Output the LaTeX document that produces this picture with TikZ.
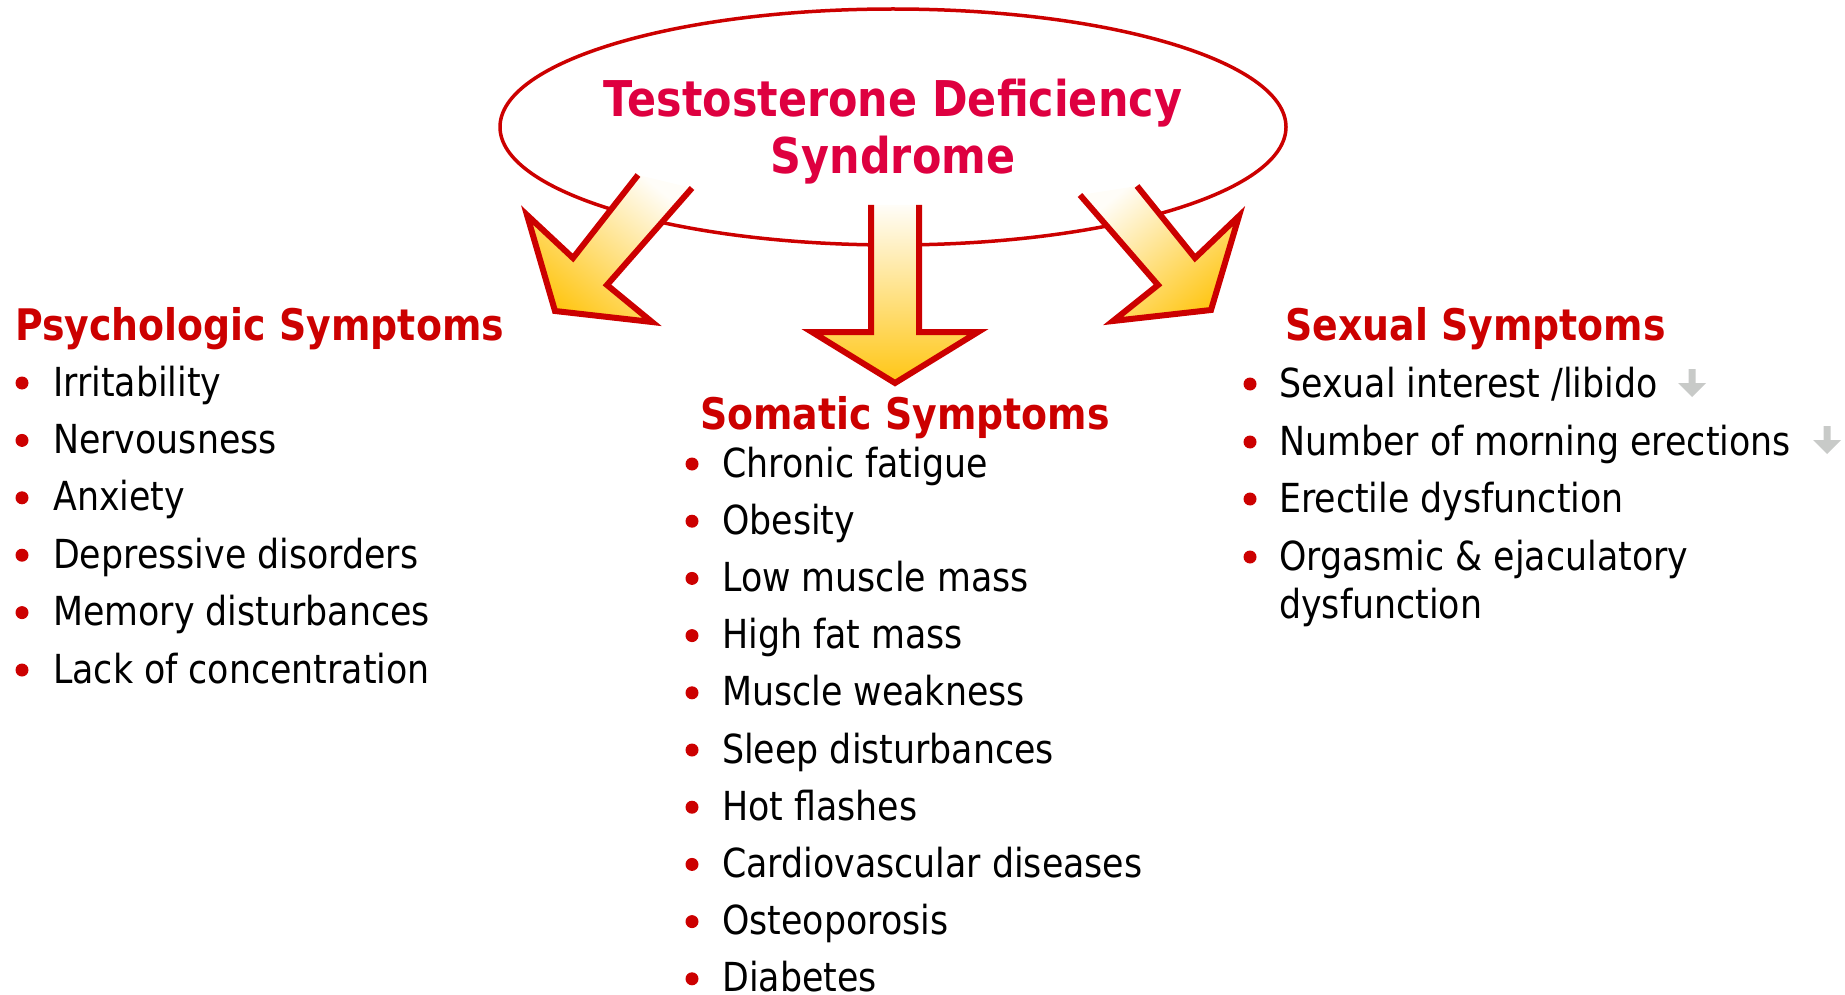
\documentclass[tikz,border=0pt]{standalone}
\usepackage{fontspec}
\setmainfont{DejaVu Sans}[FakeStretch=0.87]
\usetikzlibrary{shapes.geometric}
\definecolor{ttl}{RGB}{222,0,64}
\definecolor{hdr}{RGB}{204,0,0}
\definecolor{gold}{RGB}{255,198,20}
\definecolor{peach}{RGB}{254,226,165}
\definecolor{pale}{RGB}{255,253,248}
\definecolor{greyarrow}{RGB}{200,202,200}
\begin{document}
\begin{tikzpicture}[x=1pt,y=-1pt,
  titletext/.style={text=ttl, font=\fontsize{49.3}{58}\selectfont\bfseries, inner sep=0pt, anchor=base},
  header/.style={text=hdr, font=\fontsize{43.5}{52}\selectfont\bfseries, inner sep=0pt, anchor=base west},
  item/.style={text=black, font=\fontsize{40}{48}\selectfont, inner sep=0pt, anchor=base west},
  bul/.style={circle, fill=hdr, inner sep=0pt, minimum size=13pt},
  outline/.style={draw=hdr, line width=6pt, line join=miter, miter limit=10},
  ring/.style={draw=hdr, line width=3.5pt},
  down/.style={fill=greyarrow},
]
\useasboundingbox (0,0) rectangle (1845,995);
\clip (0,0) rectangle (1845,995);

% central ellipse
\node[ring, ellipse, minimum width=786pt, minimum height=236pt, inner sep=0pt] (ell) at (893,127) {};
\node[titletext] (t1) at (893,117) {Testosterone Deficiency};
\node[titletext] (t2) at (893,174) {Syndrome};

% left arrow
\coordinate (l1) at (638,175);
\coordinate (l2) at (573,258);
\coordinate (l3) at (527,215);
\coordinate (l4) at (555,311);
\coordinate (l5) at (652,322);
\coordinate (l6) at (607,285);
\coordinate (l7) at (692,188);
\shade[top color=pale, middle color=peach, bottom color=gold, shading angle=-39.5]
  (l1) -- (l2) -- (l3) -- (l4) -- (l5) -- (l6) -- (l7) -- cycle;
\draw[outline] (l1) -- (l2) -- (l3) -- (l4) -- (l5) -- (l6) -- (l7);

% middle arrow
\coordinate (m1) at (871,205);
\coordinate (m2) at (871,332);
\coordinate (m3) at (812,332);
\coordinate (m4) at (895,383);
\coordinate (m5) at (978,332);
\coordinate (m6) at (919,332);
\coordinate (m7) at (919,205);
\shade[top color=pale, middle color=peach, bottom color=gold]
  (m1) -- (m2) -- (m3) -- (m4) -- (m5) -- (m6) -- (m7) -- cycle;
\draw[outline] (m1) -- (m2) -- (m3) -- (m4) -- (m5) -- (m6) -- (m7);

% right arrow
\coordinate (r1) at (1137,186);
\coordinate (r2) at (1195,258);
\coordinate (r3) at (1239,216);
\coordinate (r4) at (1211,310);
\coordinate (r5) at (1113,321);
\coordinate (r6) at (1158,285);
\coordinate (r7) at (1080,195);
\shade[top color=pale, middle color=peach, bottom color=gold, shading angle=39.5]
  (r1) -- (r2) -- (r3) -- (r4) -- (r5) -- (r6) -- (r7) -- cycle;
\draw[outline] (r1) -- (r2) -- (r3) -- (r4) -- (r5) -- (r6) -- (r7);

% Psychologic
\node[header] (hp) at (15,340) {Psychologic Symptoms};
\foreach \t [count=\i] in {Irritability, Nervousness, Anxiety, Depressive disorders, Memory disturbances, Lack of concentration}{
  \node[item] (p\i) at (53,{396+57.4*(\i-1)}) {\t};
  \node[bul] (pb\i) at (22,{383+57.4*(\i-1)}) {};
}

% Somatic
\node[header] (hs) at (700,429) {Somatic Symptoms};
\foreach \t [count=\i] in {Chronic fatigue, Obesity, Low muscle mass, High fat mass, Muscle weakness, Sleep disturbances, Hot flashes, Cardiovascular diseases, Osteoporosis, Diabetes}{
  \node[item] (s\i) at (722,{477+57.2*(\i-1)}) {\t};
  \node[bul] (sb\i) at (692,{464+57.2*(\i-1)}) {};
}

% Sexual
\node[header] (hx) at (1285,340) {Sexual Symptoms};
\node[item] (x1) at (1279,397) {Sexual interest /libido};
\node[item] (x2) at (1279,455) {Number of morning erections};
\node[item] (x3) at (1279,512) {Erectile dysfunction};
\node[item] (x4) at (1279,570) {Orgasmic \& ejaculatory};
\node[item] (x5) at (1279,618) {dysfunction};
\node[bul] (xb1) at (1250,384) {};
\node[bul] (xb2) at (1250,442) {};
\node[bul] (xb3) at (1250,499) {};
\node[bul] (xb4) at (1250,557) {};

% grey down arrows
\coordinate (g1) at (1692,369);
\coordinate (g2) at (1827,426);
\fill[down] (g1) ++(-3.5,0) -- ++(7,0) -- ++(0,14) -- ++(10.5,0) -- ++(-14,14) -- ++(-14,-14) -- ++(10.5,0) -- cycle;
\fill[down] (g2) ++(-3.5,0) -- ++(7,0) -- ++(0,14) -- ++(10.5,0) -- ++(-14,14) -- ++(-14,-14) -- ++(10.5,0) -- cycle;
\end{tikzpicture}
\end{document}
